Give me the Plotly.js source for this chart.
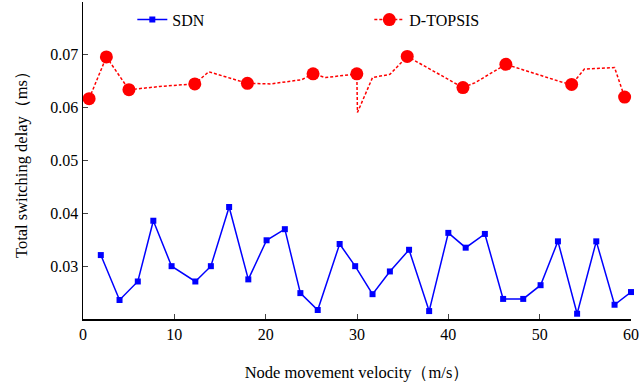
<!DOCTYPE html>
<html>
<head>
<meta charset="utf-8">
<script src="https://cdn.plot.ly/plotly-3.0.1.min.js"></script>
<style>html,body{margin:0;padding:0;background:#fff;}#chart{width:639px;height:382px;}</style>
</head>
<body>
<div id="chart"></div>
<script>
// SDN series
const sdnX = [1.95, 4.0, 6.0, 7.7, 9.7, 12.3, 14.0, 16.0, 18.1, 20.1, 22.1, 23.8, 25.7, 28.1, 29.8, 31.7, 33.6, 35.7, 37.9, 40.0, 41.9, 44.0, 46.0, 48.2, 50.1, 52.0, 54.1, 56.2, 58.2, 60.0];
const sdnY = [0.0321, 0.0236, 0.0271, 0.0386, 0.0300, 0.0271, 0.0300, 0.0412, 0.0275, 0.0349, 0.0370, 0.0249, 0.0217, 0.0342, 0.0300, 0.0247, 0.0290, 0.0331, 0.0215, 0.0363, 0.0335, 0.0361, 0.0238, 0.0238, 0.0264, 0.0347, 0.0210, 0.0347, 0.0227, 0.0251];
// D-TOPSIS dotted line vertices
const topLineX = [0.67, 2.56, 5.03, 8.4, 12.24, 13.76, 18.0, 20.55, 23.96, 25.19, 26.54, 29.98, 30.05, 31.7, 33.6, 35.5, 41.6, 42.9, 46.3, 52.3, 53.5, 54.9, 58.2, 59.3];
const topLineY = [0.0617, 0.0696, 0.0634, 0.0640, 0.0645, 0.0668, 0.0646, 0.0645, 0.0653, 0.0664, 0.0657, 0.0664, 0.0591, 0.0657, 0.0663, 0.0697, 0.0638, 0.0647, 0.0682, 0.0649, 0.0644, 0.0673, 0.0676, 0.0620];
// D-TOPSIS marked points
const topMarkX = [0.67, 2.56, 5.03, 12.24, 18.0, 25.19, 29.98, 35.5, 41.6, 46.3, 53.5, 59.3];
const topMarkY = [0.0617, 0.0696, 0.0634, 0.0645, 0.0646, 0.0664, 0.0664, 0.0697, 0.0638, 0.0682, 0.0644, 0.0620];
// axis ticks
const xTicks = [0, 10, 20, 30, 40, 50, 60];
const yTicks = [0.03, 0.04, 0.05, 0.06, 0.07];
const yTickText = ['0.03', '0.04', '0.05', '0.06', '0.07'];

const blue = '#0000ff', red = '#ff0000';
const dotted = '3px,2px';

const traces = [
  {x: sdnX, y: sdnY, name: 'SDN', mode: 'lines+markers', type: 'scatter', cliponaxis: false,
   line: {color: blue, width: 1.5}, marker: {symbol: 'square', size: 6, color: blue}},
  {x: topLineX, y: topLineY, mode: 'lines', type: 'scatter', showlegend: false,
   line: {color: red, width: 1.5, dash: dotted}},
  {x: topMarkX, y: topMarkY, mode: 'markers', type: 'scatter', showlegend: false, cliponaxis: false,
   marker: {symbol: 'circle', size: 13, color: red}},
  {x: [null], y: [null], name: 'D-TOPSIS', mode: 'lines+markers', type: 'scatter',
   line: {color: red, width: 1.5, dash: dotted}, marker: {symbol: 'circle', size: 13, color: red}}
];

const fam = 'Liberation Serif, Times New Roman, serif';
const tickFont = {family: fam, color: '#000', size: 16};
const titleFont = {family: fam, color: '#000', size: 16.5};
const legFont = {family: fam, color: '#000', size: 16};

const layout = {
  width: 639, height: 382,
  margin: {l: 83, r: 8, t: 2, b: 63},
  paper_bgcolor: '#fff', plot_bgcolor: '#fff',
  font: tickFont,
  showlegend: true,
  legend: {orientation: 'h', x: 0.09, y: 0.998, xanchor: 'left', yanchor: 'top',
           entrywidth: 192, entrywidthmode: 'pixels', bgcolor: 'rgba(0,0,0,0)', font: legFont},
  xaxis: {range: [0, 60], tickvals: xTicks, ticks: 'inside', ticklen: 5, tickwidth: 1,
          ticklabeloverflow: 'allow',
          showline: true, linecolor: '#000', linewidth: 1.5, mirror: false, showgrid: false, zeroline: false,
          tickfont: tickFont,
          title: {text: 'Node movement velocity（m/s）', font: titleFont, standoff: 24}},
  yaxis: {range: [0.02, 0.08], tickvals: yTicks, ticktext: yTickText, ticks: 'inside', ticklen: 5, tickwidth: 1,
          showline: true, linecolor: '#000', linewidth: 1.5, mirror: false, showgrid: false, zeroline: false,
          tickfont: tickFont,
          title: {text: 'Total switching delay（ms）', font: titleFont, standoff: 18}}
};

Plotly.newPlot('chart', traces, layout, {displayModeBar: false, staticPlot: true});
</script>
</body>
</html>
